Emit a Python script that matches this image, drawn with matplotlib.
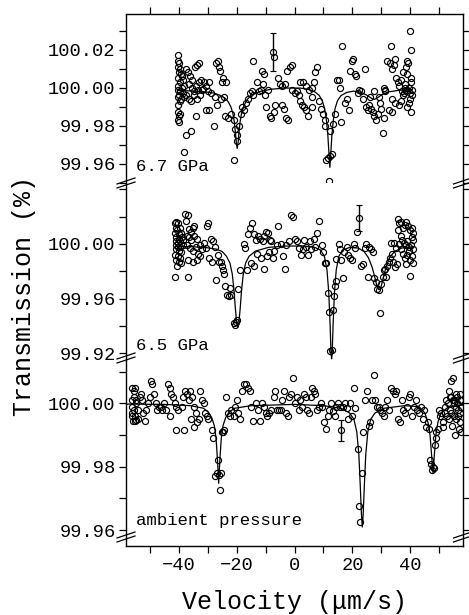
import matplotlib
matplotlib.use("Agg")
import matplotlib.pyplot as plt
from matplotlib.ticker import MultipleLocator, FixedLocator

plt.rcParams['font.family'] = ['Liberation Mono', 'DejaVu Sans Mono']

# ---- data (velocity in um/s, transmission in %) ----
# 6.7 GPa
pts_67 = [
    (-40.4, 100.017), (-40.2, 100.014), (-39.9, 100.013), (-40.3, 100.011), (-39.5, 100.010),
    (-40.0, 100.008), (-39.2, 100.007), (-40.4, 100.005), (-38.8, 100.006), (-39.6, 100.003),
    (-38.5, 100.004), (-40.1, 100.001), (-39.0, 100.000), (-38.2, 100.001), (-40.3, 99.999),
    (-39.4, 99.998), (-38.6, 99.997), (-39.8, 99.996), (-38.0, 99.995), (-40.2, 99.995),
    (-39.1, 99.994), (-37.6, 99.996), (-40.4, 99.991), (-39.7, 99.993), (-40.3, 99.987),
    (-39.9, 99.985), (-40.4, 99.983), (-40.0, 99.982), (-39.6, 99.986), (-38.1, 99.966),
    (-37.4, 99.975), (-35.7, 99.977), (-34.0, 99.985),
    (-37.5, 100.010), (-36.8, 100.008), (-36.0, 100.006), (-35.3, 100.004), (-36.5, 100.002),
    (-35.5, 100.000), (-34.8, 99.998), (-34.0, 100.001), (-33.5, 99.999), (-33.0, 100.003),
    (-32.4, 100.004), (-31.8, 99.999), (-31.3, 100.003), (-30.6, 100.001), (-30.0, 99.998),
    (-29.5, 100.003), (-29.0, 99.997), (-34.6, 99.996), (-33.8, 99.994), (-32.8, 99.996),
    (-35.8, 99.993), (-36.6, 99.994), (-34.3, 100.011), (-33.6, 100.012), (-33.0, 100.013),
    (-30.5, 99.988), (-29.4, 99.988), (-31.5, 99.9995),
    (-27.8, 99.980), (-27.2, 100.013), (-26.5, 100.014), (-26.0, 100.011), (-25.6, 100.009),
    (-25.0, 100.003), (-24.6, 100.005), (-25.5, 99.994), (-24.2, 99.995), (-26.7, 99.991),
    (-27.5, 99.995), (-24.0, 99.985), (-23.0, 99.984), (-22.0, 99.986), (-23.5, 100.003),
    (-21.0, 99.983), (-20.4, 99.978), (-20.0, 99.975), (-19.8, 99.972), (-20.8, 99.962),
    (-19.2, 99.980), (-18.6, 99.986), (-18.0, 99.990), (-17.4, 99.988), (-16.8, 99.992),
    (-16.2, 99.994), (-15.5, 99.997), (-14.8, 99.998), (-14.2, 99.996),
    (-14.2, 100.014), (-13.0, 100.003), (-12.2, 99.998), (-11.5, 99.999), (-10.8, 100.002),
    (-10.2, 99.996), (-11.2, 100.009), (-10.5, 100.007), (-9.8, 99.990), (-9.2, 99.999),
    (-8.6, 99.985), (-8.0, 99.984), (-7.2, 99.987), (-6.6, 99.991), (-7.0, 100.016),
    (-5.6, 100.005), (-4.9, 100.002), (-4.2, 100.001), (-3.2, 100.002), (-4.5, 99.991),
    (-3.8, 99.989), (-3.0, 99.984), (-2.2, 99.983), (-2.6, 100.009), (-1.6, 100.011),
    (-1.0, 100.012), (-0.8, 99.999), (0.1, 99.997), (0.8, 99.998), (1.5, 99.996),
    (2.0, 99.993), (2.6, 99.991), (3.3, 99.990), (4.0, 99.988), (4.7, 99.985),
    (1.8, 100.003), (2.8, 100.003), (4.0, 100.001), (5.0, 99.999), (5.9, 100.000),
    (6.6, 100.003), (7.2, 100.008), (7.6, 100.011), (6.2, 99.995), (6.0, 99.990),
    (8.5, 99.993), (9.2, 99.989), (9.8, 99.986), (10.4, 99.983), (10.6, 99.980),
    (11.0, 99.962), (11.4, 99.963), (12.0, 99.951), (12.3, 99.964), (12.4, 99.977),
    (13.0, 99.965), (13.3, 99.981), (13.8, 99.986), (14.8, 100.004), (15.3, 100.004),
    (15.8, 100.000), (16.2, 99.982), (16.5, 100.022),
    (17.5, 99.992), (18.2, 99.994), (18.8, 99.988), (19.2, 100.009), (19.8, 100.014),
    (20.3, 100.015), (20.8, 100.007), (21.2, 100.006), (21.8, 99.997), (22.4, 99.999),
    (23.0, 99.998), (23.6, 99.994), (24.3, 100.010), (24.8, 99.990), (25.4, 99.988),
    (25.8, 99.991), (26.4, 99.989), (27.0, 99.987), (27.6, 99.985), (28.2, 99.983),
    (28.8, 99.986), (29.4, 99.992), (30.0, 99.989), (30.8, 99.984), (29.0, 99.995),
    (27.5, 99.998), (26.2, 99.995), (30.5, 99.976), (31.2, 99.999),
    (32.0, 100.014), (32.8, 100.013), (33.4, 100.022), (33.6, 100.010), (34.2, 100.012),
    (34.6, 100.015), (35.0, 100.005), (35.6, 100.003), (36.2, 100.001), (36.8, 100.004),
    (37.2, 99.998), (37.6, 99.996), (38.0, 100.002), (38.5, 100.011), (38.9, 100.014),
    (39.3, 100.013), (39.8, 100.030), (40.2, 100.020), (40.3, 100.005), (40.1, 100.003),
    (39.6, 100.000), (39.0, 99.999), (38.4, 99.998), (37.9, 99.997), (40.4, 99.996),
    (40.0, 99.994), (39.4, 99.992), (38.7, 99.990), (40.3, 99.987), (36.8, 99.993),
    (35.9, 99.991), (34.6, 99.992), (33.5, 99.994), (32.5, 99.988), (33.8, 99.987),
    (31.4, 99.998), (30.8, 100.000), (39.7, 99.997), (40.4, 99.999), (38.2, 100.000),
    (37.3, 100.008), (39.0, 100.007),
]
fit_67 = [
    (-40.5, 99.9985), (-36, 99.9983), (-32, 99.9980), (-28, 99.9972), (-26, 99.9962),
    (-24, 99.9945), (-23, 99.9928), (-22, 99.9900), (-21.3, 99.9865), (-20.8, 99.982),
    (-20.4, 99.976), (-20.1, 99.971), (-19.8, 99.968), (-19.5, 99.971), (-19.2, 99.976),
    (-18.8, 99.982), (-18.3, 99.9865), (-17.6, 99.990), (-16.5, 99.9935), (-15, 99.9960),
    (-12, 99.9980), (-8, 99.9992), (-3, 99.9998), (2, 99.9998), (5, 99.9990),
    (7, 99.9978), (8.5, 99.9960), (9.6, 99.9930), (10.4, 99.9890), (11.0, 99.983),
    (11.5, 99.975), (11.9, 99.965), (12.2, 99.958), (12.5, 99.965), (12.9, 99.975),
    (13.4, 99.983), (14.0, 99.989), (14.8, 99.9930), (16, 99.9958), (18, 99.9975),
    (20.5, 99.9982), (23, 99.9975), (25, 99.9960), (26.5, 99.9945), (27.5, 99.9938),
    (28.5, 99.9945), (30, 99.9962), (32.5, 99.9978), (36, 99.9986), (40.5, 99.9990),
]
err_67 = (-7.6, 100.019, 0.010)

# 6.5 GPa
pts_65 = [
    (-41.2, 100.015), (-40.8, 100.016), (-40.2, 100.015), (-41.0, 100.012), (-40.5, 100.010),
    (-39.6, 100.012), (-41.2, 100.008), (-40.0, 100.007), (-39.2, 100.008), (-40.8, 100.005),
    (-39.8, 100.004), (-38.8, 100.005), (-41.0, 100.002), (-40.2, 100.001), (-39.4, 100.002),
    (-38.4, 100.003), (-41.1, 99.999), (-40.4, 99.998), (-39.5, 99.998), (-38.6, 99.999),
    (-41.0, 99.996), (-40.0, 99.995), (-39.2, 99.994), (-41.2, 99.992), (-40.4, 99.991),
    (-39.6, 99.990), (-41.0, 99.988), (-40.0, 99.987), (-39.2, 99.986), (-40.6, 99.984),
    (-41.3, 99.9755),
    (-37.8, 100.022), (-36.8, 100.021), (-37.4, 100.017), (-36.6, 100.011), (-35.9, 100.009),
    (-35.2, 100.012), (-34.6, 100.013), (-37.2, 100.006), (-36.4, 100.005), (-35.6, 100.003),
    (-34.6, 100.006), (-33.8, 100.004), (-37.0, 99.999), (-36.2, 99.997), (-35.2, 99.995),
    (-34.2, 99.998), (-33.4, 99.993), (-32.8, 99.999), (-36.8, 99.988), (-35.0, 99.987),
    (-33.8, 99.988), (-32.6, 99.991), (-31.8, 99.996), (-31.2, 100.001), (-30.5, 99.997),
    (-36.7, 99.9755),
    (-30.4, 100.013), (-29.8, 100.015), (-28.8, 100.004), (-28.2, 100.002), (-29.6, 99.990),
    (-28.6, 99.987), (-27.6, 99.998), (-27.2, 99.974), (-26.6, 99.992), (-26.0, 99.987),
    (-25.4, 99.987), (-25.0, 99.984), (-24.6, 99.981), (-24.3, 99.978),
    (-24.0, 99.969), (-23.4, 99.963), (-22.8, 99.962), (-22.2, 99.968), (-21.8, 99.963),
    (-21.0, 99.942), (-20.6, 99.941), (-20.2, 99.943), (-20.0, 99.9445), (-19.6, 99.967),
    (-19.0, 99.981),
    (-17.6, 100.000), (-17.1, 99.997), (-16.2, 100.007), (-15.5, 100.012), (-14.8, 100.015),
    (-14.0, 100.007), (-13.2, 100.003), (-12.6, 100.006), (-11.8, 100.004), (-11.0, 100.002),
    (-10.4, 100.006), (-9.8, 100.009), (-9.2, 100.008), (-8.6, 100.003), (-8.0, 100.002),
    (-16.5, 99.981), (-15.0, 99.986), (-14.0, 99.984), (-12.8, 99.993), (-11.6, 99.990),
    (-10.4, 99.982), (-9.6, 99.991), (-8.8, 99.994), (-7.6, 99.990), (-7.0, 99.995),
    (-6.2, 99.999), (-5.6, 100.013), (-4.8, 100.000), (-4.0, 99.991), (-3.4, 99.982),
    (-2.8, 99.999), (-2.0, 100.002), (-1.2, 100.021), (-0.6, 100.020), (0.0, 100.004),
    (0.8, 100.002), (1.4, 99.997), (2.2, 99.992), (2.8, 99.996), (3.4, 100.003),
    (4.0, 99.998), (4.6, 99.992), (5.2, 100.002), (5.8, 99.996), (6.6, 100.004),
    (7.2, 99.998), (7.8, 100.008), (8.6, 100.017), (9.4, 99.999), (10.0, 99.994),
    (10.6, 99.986), (11.0, 99.986), (11.6, 99.964), (12.0, 99.950), (12.4, 99.9215),
    (12.8, 99.9225), (13.2, 99.952), (13.6, 99.962), (14.0, 99.969), (14.4, 99.973),
    (14.2, 99.989),
    (15.2, 100.000), (15.6, 99.996), (16.2, 99.988), (16.6, 99.975), (17.2, 99.994),
    (18.0, 99.998), (18.5, 99.992), (19.0, 99.990), (19.8, 99.988), (20.4, 100.000),
    (21.0, 99.997), (21.6, 100.009), (23.0, 99.984), (23.6, 99.985), (24.2, 99.997),
    (24.8, 100.000), (25.4, 99.976), (25.8, 99.998), (26.4, 99.996), (27.0, 99.994),
    (27.5, 99.975), (28.0, 99.972), (28.6, 99.967), (29.2, 99.966), (29.6, 99.9495),
    (29.9, 99.971), (30.4, 99.976), (30.8, 99.981), (31.2, 99.982), (31.6, 99.976),
    (32.0, 99.984), (32.6, 99.987), (33.0, 99.990), (33.6, 99.993), (34.0, 99.987),
    (34.6, 99.983), (33.2, 100.001), (34.2, 100.001), (35.0, 99.997), (35.4, 99.985),
    (35.6, 100.018), (36.2, 100.015), (36.8, 100.016), (37.4, 100.012), (38.0, 100.014),
    (38.6, 100.016), (39.2, 100.013), (39.8, 100.010), (40.4, 100.012), (40.8, 100.008),
    (35.8, 100.010), (36.6, 100.006), (37.2, 100.003), (37.8, 100.001), (38.4, 99.999),
    (39.0, 100.002), (39.6, 99.998), (40.2, 99.999), (40.8, 99.996), (41.0, 100.003),
    (36.0, 100.000), (36.8, 99.996), (37.6, 99.993), (38.2, 99.990), (39.0, 99.992),
    (39.8, 99.988), (40.6, 99.991), (40.9, 99.986), (38.6, 99.985), (40.0, 99.9765),
    (39.4, 99.995), (40.4, 100.005),
]
fit_65 = [
    (-41, 99.9982), (-36, 99.9980), (-31, 99.9975), (-27, 99.9962), (-25, 99.9945),
    (-23.5, 99.991), (-22.3, 99.986), (-21.5, 99.978), (-20.9, 99.966), (-20.4, 99.952),
    (-19.9, 99.941), (-19.6, 99.939), (-19.3, 99.941), (-18.8, 99.952), (-18.3, 99.966),
    (-17.7, 99.978), (-16.9, 99.986), (-15.7, 99.991), (-13.5, 99.9948), (-9, 99.9975),
    (-3, 99.9985), (3, 99.9985), (7, 99.9975), (9, 99.9955), (10.3, 99.991),
    (11.2, 99.981), (11.8, 99.965), (12.3, 99.940), (12.6, 99.920), (12.8, 99.916),
    (13.0, 99.920), (13.3, 99.940), (13.8, 99.965), (14.4, 99.981), (15.3, 99.991),
    (16.6, 99.9955), (19, 99.9975), (22, 99.997), (24, 99.9945), (25.5, 99.990),
    (26.8, 99.983), (27.8, 99.975), (28.6, 99.968), (29.2, 99.9665), (29.8, 99.968),
    (30.6, 99.975), (31.6, 99.983), (32.8, 99.990), (34.5, 99.9945), (37, 99.997),
    (41, 99.998),
]
err_65 = (22.3, 100.019, 0.0097)

# ambient pressure
pts_amb = [
    (-56.0, 100.005), (-55.6, 100.004), (-55.2, 100.005), (-56.2, 100.001), (-55.5, 100.002),
    (-54.8, 100.001), (-56.0, 99.999), (-55.3, 99.998), (-54.6, 100.000), (-56.1, 99.997),
    (-55.0, 99.996), (-54.2, 99.998), (-55.8, 99.9945), (-55.2, 99.9945), (-54.6, 99.9948),
    (-54.0, 99.995), (-56.0, 99.996), (-53.5, 100.002), (-53.0, 100.003), (-52.6, 100.001),
    (-52.2, 99.997), (-51.6, 99.9945), (-51.2, 99.998), (-50.6, 100.000), (-50.0, 100.002),
    (-49.6, 100.007), (-49.2, 100.006), (-48.6, 100.003), (-48.0, 100.000), (-47.6, 99.998),
    (-46.8, 99.999), (-46.2, 99.999), (-45.6, 99.998), (-45.0, 100.000), (-44.4, 99.998),
    (-43.6, 100.006), (-43.0, 100.005), (-42.6, 100.003), (-42.0, 100.002), (-41.4, 100.000),
    (-40.8, 99.999), (-40.2, 99.998), (-43.0, 99.996), (-41.0, 99.9915), (-39.0, 99.999),
    (-38.4, 100.002), (-37.8, 100.004), (-37.2, 100.003), (-36.6, 100.001), (-38.0, 99.9915),
    (-36.0, 100.004), (-35.4, 100.002), (-34.8, 99.999), (-34.2, 99.997), (-35.6, 99.995),
    (-34.6, 99.9925), (-33.6, 99.994), (-33.0, 99.995), (-32.6, 100.004), (-32.0, 100.001),
    (-31.4, 100.000), (-31.0, 99.997), (-30.4, 99.996), (-29.8, 99.995),
    (-28.6, 99.9915), (-28.2, 99.989), (-27.4, 99.977), (-26.8, 99.978), (-26.4, 99.982),
    (-26.0, 99.9775), (-25.9, 99.9726), (-25.4, 99.978), (-25.0, 99.991), (-24.6, 99.991),
    (-24.2, 99.9915), (-23.6, 100.002),
    (-23.0, 99.997), (-22.4, 99.996), (-21.8, 99.998), (-21.0, 99.996), (-20.4, 99.999),
    (-20.0, 100.001), (-19.4, 99.997), (-18.8, 99.995), (-18.0, 100.004), (-17.4, 100.006),
    (-16.6, 100.006), (-16.0, 100.005), (-15.4, 100.004), (-15.0, 99.999), (-14.2, 99.9945),
    (-13.4, 100.000), (-12.6, 99.998), (-12.0, 99.9945), (-11.4, 100.000), (-10.6, 99.999),
    (-10.0, 99.997), (-9.4, 99.996), (-8.8, 99.997), (-8.0, 99.998), (-7.2, 100.002),
    (-6.6, 100.004), (-6.0, 99.998), (-5.4, 99.998), (-4.8, 99.998), (-4.2, 100.001),
    (-3.6, 100.004), (-3.0, 99.997), (-2.4, 99.996), (-1.8, 100.002), (-1.2, 100.003),
    (-0.5, 100.008), (0.2, 100.000), (0.8, 100.002), (1.4, 99.998), (2.0, 100.001),
    (2.6, 99.999), (3.2, 100.003), (3.8, 100.002), (4.4, 99.998), (5.0, 99.997),
    (5.6, 100.002), (6.2, 100.005), (6.8, 100.004), (7.2, 100.003), (7.8, 99.998),
    (8.4, 99.999), (9.0, 100.000), (9.6, 99.999), (10.2, 99.994), (10.8, 99.992),
    (11.4, 99.996), (12.0, 99.998), (12.6, 100.000), (13.2, 99.9975), (13.8, 99.996),
    (14.4, 99.999), (15.0, 100.000), (15.6, 99.999), (16.8, 99.999), (17.4, 100.000),
    (18.0, 99.9985), (18.6, 99.995), (19.2, 100.000), (19.8, 99.996), (20.4, 100.005),
    (21.0, 99.9985), (21.8, 99.9855), (22.2, 99.9675), (22.7, 99.9625), (23.2, 99.978),
    (23.8, 99.991), (24.4, 100.001), (25.0, 100.004), (25.6, 99.993), (26.2, 99.994),
    (26.8, 100.001), (27.4, 100.009), (27.9, 100.001),
    (28.4, 99.999), (29.0, 99.999), (29.6, 99.998), (30.2, 99.997), (30.8, 99.996),
    (31.4, 99.999), (32.0, 100.001), (32.6, 99.998), (33.4, 100.005), (34.0, 100.004),
    (34.6, 100.003), (35.2, 100.004), (35.8, 99.995), (36.4, 99.994), (37.0, 100.001),
    (37.6, 99.998), (38.2, 99.997), (38.8, 99.999), (39.4, 100.002), (40.0, 100.003),
    (40.6, 99.996), (41.2, 99.999), (41.8, 100.001), (42.4, 99.998), (43.0, 99.997),
    (43.6, 99.999), (44.2, 99.995), (44.8, 99.998), (45.4, 99.9925),
    (46.0, 99.994), (46.4, 99.992), (46.8, 99.982), (47.2, 99.981), (47.6, 99.979),
    (47.9, 99.980), (48.2, 99.9795), (48.4, 99.987), (48.8, 99.989), (49.0, 99.991),
    (49.4, 99.992),
    (50.0, 99.998), (50.6, 99.997), (51.2, 99.994), (51.8, 99.999), (52.4, 100.001),
    (53.0, 100.000), (53.6, 99.998), (54.0, 100.002), (54.6, 100.001), (55.2, 100.000),
    (55.8, 99.999), (56.4, 99.998), (57.0, 100.001), (57.4, 99.999), (52.6, 99.996),
    (53.4, 99.995), (54.2, 99.997), (55.0, 99.996), (55.8, 99.995), (56.6, 99.996),
    (57.2, 99.994), (54.4, 99.993), (55.4, 99.990), (56.8, 99.992), (57.4, 99.991),
    (53.2, 100.004), (54.0, 100.007), (54.8, 100.008), (53.6, 100.002), (55.6, 100.003),
    (56.2, 100.002), (57.0, 100.003), (57.5, 100.001), (52.0, 99.997), (56.0, 100.000),
    (55.0, 100.001), (57.3, 99.997), (50.4, 99.996), (51.4, 99.9925),
]
fit_amb = [
    (-58, 99.9998), (-45, 99.9997), (-36, 99.9993), (-31.5, 99.9985), (-29.8, 99.9973),
    (-28.6, 99.9955), (-27.7, 99.993), (-27.1, 99.989), (-26.6, 99.982), (-26.2, 99.9748),
    (-25.8, 99.982), (-25.3, 99.989), (-24.7, 99.993), (-23.8, 99.9955), (-22.6, 99.9973),
    (-20.6, 99.9985), (-15, 99.9993), (0, 99.9997), (10, 99.9993), (16, 99.9985),
    (19, 99.997), (20.5, 99.995), (21.5, 99.991), (22.2, 99.984), (22.7, 99.974),
    (23.1, 99.965), (23.4, 99.961), (23.7, 99.965), (24.1, 99.974), (24.6, 99.984),
    (25.3, 99.991), (26.3, 99.995), (27.8, 99.997), (31, 99.9985), (38, 99.9993),
    (43, 99.999), (45, 99.997), (46.1, 99.994), (46.8, 99.990), (47.3, 99.984),
    (47.8, 99.978), (48.3, 99.984), (48.8, 99.990), (49.5, 99.994), (50.6, 99.997),
    (53, 99.9988), (58, 99.9995),
]
err_amb = (16.2, 99.9915, 0.0032)

labels = ["6.7 GPa", "6.5 GPa", "ambient pressure"]
x_ticks = [-40, -20, 0, 20, 40]
y_labels = [[99.96, 99.98, 100.00, 100.02],
            [99.92, 99.96, 100.00],
            [99.96, 99.98, 100.00]]

# ---- layout (figure pixels, 469 x 615) ----
W, H = 469, 615
fig = plt.figure(figsize=(W / 100, H / 100), dpi=100)

x0, x1 = 126, 462.5
bounds = [(14, 183), (183, 361), (361, 546)]
ylims = [(99.9498, 100.0388), (99.9144, 100.0446), (99.955, 100.0134)]
minor = [0.01, 0.02, 0.01]
breaks_y = [183, 358, 537]
label_y = [167, 345, 520]

series = [(pts_67, fit_67, err_67), (pts_65, fit_65, err_65), (pts_amb, fit_amb, err_amb)]

for i, ((top, bot), (pts, fit, err)) in enumerate(zip(bounds, series)):
    ax = fig.add_axes([x0 / W, 1 - bot / H, (x1 - x0) / W, (bot - top) / H])
    px = [p[0] for p in pts]
    py = [p[1] for p in pts]
    ax.plot(px, py, 'o', ms=4.4, mfc='none', mec='black', mew=0.85)
    ax.plot([f[0] for f in fit], [f[1] for f in fit], '-', color='black', lw=0.9)
    ax.errorbar([err[0]], [err[1]], yerr=[err[2]], fmt='o', ms=4.4, mfc='none',
                mec='black', mew=0.85, ecolor='black', elinewidth=1.0, capsize=2.5, capthick=1.0)

    ax.set_xlim(-58.2, 58.0)
    ax.set_ylim(*ylims[i])
    ax.yaxis.set_major_locator(FixedLocator(y_labels[i]))
    ax.yaxis.set_minor_locator(MultipleLocator(minor[i]))
    ax.yaxis.set_major_formatter(plt.FormatStrFormatter('%.2f'))
    ax.xaxis.set_major_locator(MultipleLocator(10))
    ax.tick_params(axis='y', which='both', direction='out', length=5, width=0.9,
                   left=True, right=True, labelsize=13.5, pad=2.5)
    ax.tick_params(axis='x', which='both', direction='out', length=5, width=0.9,
                   labelsize=13.5, pad=3)
    for s in ax.spines.values():
        s.set_linewidth(1.0)
    if i > 0:
        ax.spines['top'].set_visible(False)
    if i < 2:
        ax.spines['bottom'].set_visible(False)
    if i == 0:
        ax.tick_params(axis='x', top=True, bottom=False, labelbottom=False)
    elif i == 1:
        ax.tick_params(axis='x', top=False, bottom=False, labelbottom=False)
    else:
        ax.tick_params(axis='x', top=False, bottom=True)
        ax.set_xticks(x_ticks)
        ax.xaxis.set_minor_locator(MultipleLocator(10))
        ax.set_xticklabels([str(t).replace('-', '\u2212') for t in x_ticks])

    fig.text(136 / W, 1 - label_y[i] / H, labels[i], fontsize=12.5,
             va='center', ha='left')

# break marks on both vertical spines
for yb in breaks_y:
    for xs in (x0, x1):
        for dy in (-2, 2):
            fig.add_artist(plt.Line2D([(xs - 9) / W, (xs + 9) / W],
                                      [1 - (yb + dy + 3) / H, 1 - (yb + dy - 3) / H],
                                      color='black', lw=0.9))

fig.text(24 / W, 1 - 296 / H, "Transmission (%)", rotation=90, fontsize=18,
         ha='center', va='center')
fig.text(295 / W, 1 - 602 / H, "Velocity (\u03bcm/s)", fontsize=18,
         ha='center', va='center')

fig.savefig("out.png", dpi=100)
